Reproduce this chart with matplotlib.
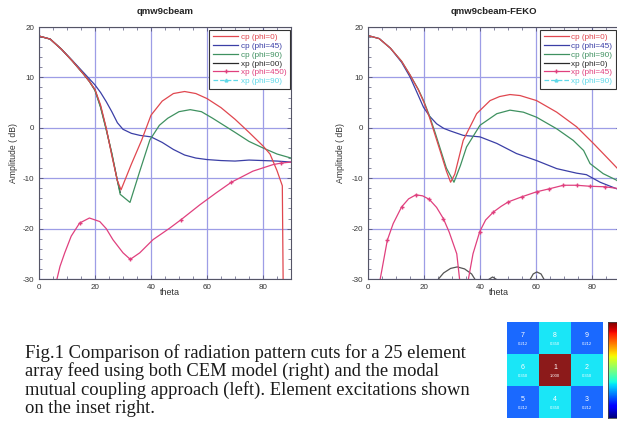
import numpy as np
import matplotlib
matplotlib.use("Agg")
import matplotlib.pyplot as plt
from matplotlib.ticker import MultipleLocator

plt.rcParams['font.family'] = ['Liberation Sans', 'DejaVu Sans']
plt.rcParams['axes.unicode_minus'] = False

# ---------------- data: left plot (modal mutual coupling) ----------------
L_red_t = [0, 4, 8, 12, 16, 18, 20, 22, 24, 26, 28, 29.3, 33, 36.7, 40, 44, 48, 52, 56, 60, 65, 70, 75, 80, 82.5, 85, 86.9, 87.2]
L_red_v = [18.2, 17.6, 15.6, 13.2, 10.6, 9.2, 7.6, 4.5, 0.0, -5.5, -10.5, -12.3, -7.2, -2.4, 2.5, 5.3, 6.8, 7.2, 6.8, 5.8, 4.0, 1.7, -0.9, -3.6, -5.2, -8.5, -11.5, -31]

L_blue_t = [0, 4, 8, 12, 16, 18, 20, 22, 24, 26, 28, 30, 33, 36, 40, 44, 48, 52, 56, 60, 65, 70, 75, 80, 85, 90]
L_blue_v = [18.2, 17.6, 15.6, 13.3, 10.9, 9.7, 8.5, 7.0, 5.2, 3.2, 1.0, -0.3, -1.1, -1.5, -1.8, -2.9, -4.3, -5.4, -6.0, -6.3, -6.5, -6.6, -6.4, -6.5, -6.6, -6.8]

L_green_t = [0, 4, 8, 12, 16, 18, 20, 22, 24, 26, 28, 29, 32.5, 36, 39.6, 43, 46, 50, 54, 58, 62, 66, 70, 75, 80, 85, 90]
L_green_v = [18.2, 17.6, 15.6, 13.2, 10.6, 9.2, 7.4, 4.0, -0.4, -5.0, -10.5, -13.2, -14.8, -8.6, -2.4, 0.5, 1.9, 3.2, 3.6, 3.2, 1.9, 0.5, -0.9, -2.7, -4.0, -5.2, -6.0]

L_black_t = [0, 4, 8, 12, 16, 18, 20, 22, 24, 26, 28, 29]
L_black_v = [18.2, 17.6, 15.6, 13.2, 10.6, 9.2, 7.5, 4.2, -0.2, -5.2, -10.5, -12.8]

L_mag_t = [6.2, 7.5, 9.2, 11.5, 14.5, 18, 21.7, 24, 26.4, 30, 32.6, 36, 40.7, 46.7, 50.8, 57.4, 63.3, 68.7, 76.4, 83.6, 86.5, 90]
L_mag_v = [-30.5, -27.5, -24.8, -21.5, -18.9, -17.9, -18.6, -20.0, -22.2, -24.8, -26.1, -24.8, -22.2, -19.9, -18.2, -15.3, -12.9, -10.8, -8.6, -7.3, -7.0, -6.8]
L_mag_marks = [4, 10, 14, 17, 20]

# ---------------- data: right plot (FEKO) ----------------
R_red_t = [0, 4, 8, 12, 15, 18, 20, 22, 24, 26, 28, 29.5, 31, 34, 38.8, 43.6, 47, 50.7, 54.3, 60.2, 67.4, 74.5, 80.5, 86.4, 90]
R_red_v = [18.3, 17.7, 15.8, 13.2, 10.5, 7.5, 5.0, 2.0, -1.5, -5.0, -8.6, -10.8, -9.2, -2.5, 2.8, 5.4, 6.2, 6.6, 6.4, 5.4, 3.1, 0.2, -3.1, -6.5, -8.6]

R_green_t = [0, 4, 8, 12, 15, 18, 20, 22, 24, 26, 28, 30.7, 33, 35.2, 40, 46, 50.7, 55.5, 60.2, 67.4, 73.3, 77, 79.3, 84, 88.8, 90]
R_green_v = [18.3, 17.7, 15.8, 13.2, 10.5, 7.6, 5.2, 2.3, -1.0, -4.5, -8.0, -10.8, -7.5, -3.8, 0.5, 2.8, 3.5, 3.1, 2.1, -0.2, -2.5, -4.5, -7.1, -9.1, -10.4, -11.0]

R_blue_t = [0, 4, 8, 12, 15, 17.5, 19.8, 22, 24.5, 27, 29.3, 34, 40, 46, 53, 60.2, 67.4, 74.5, 78, 82.9, 88.8, 90]
R_blue_v = [18.3, 17.7, 15.8, 13.0, 10.1, 7.0, 4.1, 2.3, 0.8, -0.1, -0.6, -1.5, -1.8, -3.1, -5.1, -6.5, -8.1, -9.0, -9.3, -10.8, -12.1, -12.2]

R_black_t = [24.4, 27, 29.5, 31.9, 34.5, 37, 38.7, np.nan, 42.5, 44.5, 46.5, np.nan, 57.5, 59, 60.3, 61.8, 63.3]
R_black_v = [-30.5, -28.8, -27.9, -27.6, -28.0, -29.0, -30.5, np.nan, -30.3, -29.6, -30.3, np.nan, -30.5, -29.0, -28.6, -29.0, -30.5]

R_mag_t = [4.2, 6.9, 9, 12, 14.5, 17.1, 19.5, 21.9, 24.5, 26.9, 29, 31.7, 32.8, np.nan,
           35.7, 37.5, 39.9, 42, 44.8, 47.5, 50.1, 54.9, 60.2, 64.8, 69.8, 74.5, 79.3, 84.6, 90]
R_mag_v = [-30.5, -22.3, -19.0, -15.7, -14.1, -13.3, -13.5, -14.2, -15.8, -18.0, -20.7, -25.0, -30.5, np.nan,
           -30.5, -25.0, -20.6, -18.3, -16.7, -15.6, -14.7, -13.7, -12.7, -12.1, -11.4, -11.4, -11.6, -11.7, -12.1]
R_mag_marks = [1, 3, 5, 7, 9, 16, 18, 20, 21, 22, 23, 24, 25, 26, 27]

L_labels = ["cp (phi=0)", "cp (phi=45)", "cp (phi=90)", "xp (phi=00)", "xp (phi=450)", "xp (phi=90)"]
R_labels = ["cp (phi=0)", "cp (phi=45)", "cp (phi=90)", "xp (phi=0)", "xp (phi=45)", "xp (phi=90)"]
titles = ["qmw9cbeam", "qmw9cbeam-FEKO"]

# ---------------- data: excitation inset ----------------
elem_ids = [[7, 8, 9], [6, 1, 2], [5, 4, 3]]
elem_vals = [[0.212, 0.350, 0.212], [0.350, 1.000, 0.350], [0.212, 0.350, 0.212]]

caption_lines = [
    "Fig.1 Comparison of radiation pattern cuts for a 25 element",
    "array feed using both CEM model (right) and the modal",
    "mutual coupling approach (left). Element excitations shown",
    "on the inset right.",
]

# ---------------- styling ----------------
C_RED = '#e0474f'
C_BLUE = '#3b3fa6'
C_GREEN = '#3f9160'
C_BLACK = '#2a2a2a'
C_MAG = '#e0407e'
C_CYAN = '#5fd8e8'
GRID = '#9d9de6'

W, H = 617, 425
fig = plt.figure(figsize=(W / 100, H / 100), dpi=100)


def px_axes(x0, y0, x1, y1):
    return fig.add_axes([x0 / W, 1 - y1 / H, (x1 - x0) / W, (y1 - y0) / H])


def style_axes(ax, title, ylab_x):
    ax.set_xlim(0, 90)
    ax.set_ylim(-30, 20)
    ax.xaxis.set_major_locator(MultipleLocator(20))
    ax.xaxis.set_minor_locator(MultipleLocator(5))
    ax.yaxis.set_major_locator(MultipleLocator(10))
    ax.yaxis.set_minor_locator(MultipleLocator(2))
    ax.grid(True, which='major', color=GRID, lw=0.9)
    ax.set_axisbelow(True)
    ax.tick_params(which='both', direction='in', top=True, right=True,
                   color='#555577', labelsize=5.8, labelcolor='#333333')
    ax.tick_params(which='major', length=3, width=0.6, pad=3.5)
    ax.tick_params(which='minor', length=2, width=0.5)
    for s in ax.spines.values():
        s.set_color('#555566')
        s.set_linewidth(0.8)
    ax.set_title(title, fontsize=6.8, fontweight='bold', color='#222222', pad=9)
    ax.set_xlabel('theta', fontsize=6.5, color='#333333')
    ax.xaxis.set_label_coords(0.52, -0.055)
    ax.xaxis.label.set_va('center')
    ax.set_ylabel('Amplitude ( dB)', fontsize=6.2, color='#333333')
    ax.yaxis.set_label_coords(ylab_x, 0.5)
    ax.yaxis.label.set_va('center')


def add_legend(ax, labels, anchor_x):
    h = []
    h.append(ax.plot([], [], color=C_RED, lw=0.9)[0])
    h.append(ax.plot([], [], color=C_BLUE, lw=0.9)[0])
    h.append(ax.plot([], [], color=C_GREEN, lw=0.9)[0])
    h.append(ax.plot([], [], color=C_BLACK, lw=0.9)[0])
    h.append(ax.plot([], [], color=C_MAG, lw=0.9, marker='+', ms=3)[0])
    h.append(ax.plot([], [], color=C_CYAN, lw=0.9, ls='--', marker='^', ms=2)[0])
    colors = [C_RED, C_BLUE, C_GREEN, C_BLACK, C_MAG, C_CYAN]
    leg = ax.legend(h, labels, loc='upper right', bbox_to_anchor=(anchor_x, 0.99),
                    borderaxespad=0, fontsize=5.9, handlelength=3.0, handletextpad=0.3,
                    labelspacing=0.12, borderpad=0.5, fancybox=False, framealpha=1,
                    edgecolor='#333333', numpoints=1)
    leg.get_frame().set_linewidth(0.8)
    for t, c in zip(leg.get_texts(), colors):
        t.set_color(c)


# left plot
axL = px_axes(39, 27, 291, 279)
style_axes(axL, titles[0], -0.103)
axL.plot(L_black_t, L_black_v, color=C_BLACK, lw=0.9)
axL.plot(L_blue_t, L_blue_v, color=C_BLUE, lw=0.9)
axL.plot(L_green_t, L_green_v, color=C_GREEN, lw=0.9)
axL.plot(L_red_t, L_red_v, color=C_RED, lw=0.9)
axL.plot(L_mag_t, L_mag_v, color=C_MAG, lw=0.9, marker='+', ms=3, markevery=L_mag_marks)
add_legend(axL, L_labels, 0.997)

# right plot
axR = px_axes(368, 27, 620, 279)
style_axes(axR, titles[1], -0.111)
axR.plot(R_blue_t, R_blue_v, color=C_BLUE, lw=0.9)
axR.plot(R_green_t, R_green_v, color=C_GREEN, lw=0.9)
axR.plot(R_red_t, R_red_v, color=C_RED, lw=0.9)
axR.plot(R_black_t, R_black_v, color='#555555', lw=0.9)
axR.plot(R_mag_t, R_mag_v, color=C_MAG, lw=0.9, marker='+', ms=3, markevery=R_mag_marks)
add_legend(axR, R_labels, 0.985)

# caption
for i, line in enumerate(caption_lines):
    fig.text(25 / W, 1 - (358 + i * 18.3) / H, line, fontsize=13.3,
             family=['Liberation Serif', 'DejaVu Serif'], color='#1a1a1a', va='baseline')

# inset heatmap
axH = px_axes(507, 322, 603, 418)
vals = np.array(elem_vals)
axH.imshow(vals, cmap='jet', vmin=0, vmax=1, aspect='auto', interpolation='nearest', alpha=0.9)
for r in range(3):
    for c in range(3):
        axH.text(c, r - 0.08, str(elem_ids[r][c]), color='white', fontsize=5, ha='center', va='center')
        axH.text(c, r + 0.18, f"{elem_vals[r][c]:.3f}", color='white', fontsize=3, ha='center', va='center')
axH.set_xticks([])
axH.set_yticks([])
for s in axH.spines.values():
    s.set_visible(False)

axC = px_axes(608, 322, 619, 418)
grad = np.linspace(0, 1, 100)[:, None]
axC.imshow(grad, cmap='jet', origin='lower', aspect='auto')
axC.set_xticks([])
axC.set_yticks([])
for s in axC.spines.values():
    s.set_color('#444444')
    s.set_linewidth(0.6)

fig.savefig('out.png', dpi=100)
